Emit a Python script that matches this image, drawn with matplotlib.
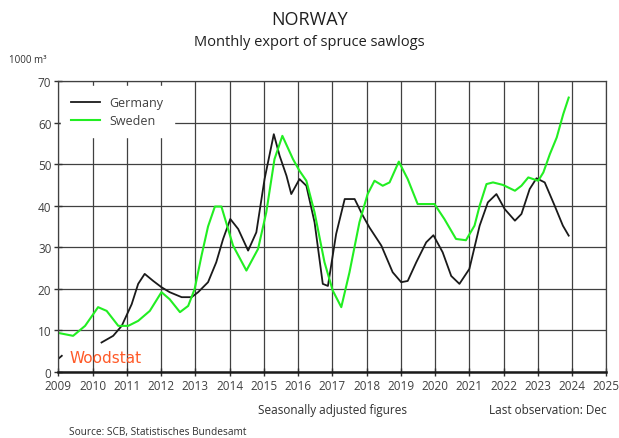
import matplotlib
matplotlib.use('Agg')
import matplotlib.pyplot as plt

# values (1000 m3), x in decimal years
germany_stub_x = [2009.0, 2009.1]
germany_stub_y = [3.2, 3.9]

germany_x = [2010.26, 2010.6, 2010.85, 2011.14, 2011.33, 2011.52, 2011.77, 2012.01,
             2012.25, 2012.6, 2012.89, 2013.08, 2013.37, 2013.61, 2013.81, 2014.02,
             2014.25, 2014.54, 2014.78, 2015.02, 2015.29, 2015.46, 2015.66, 2015.8,
             2016.04, 2016.24, 2016.48, 2016.72, 2016.87, 2017.11, 2017.36, 2017.65,
             2017.89, 2018.08, 2018.43, 2018.76, 2019.01, 2019.2, 2019.45, 2019.74,
             2019.95, 2020.22, 2020.47, 2020.71, 2021.0, 2021.3, 2021.54, 2021.79,
             2022.03, 2022.33, 2022.52, 2022.76, 2022.96, 2023.2, 2023.49, 2023.73,
             2023.9]
germany_y = [7.1, 8.7, 11.1, 16.3, 21.2, 23.6, 21.9, 20.4,
             19.2, 18.0, 18.0, 19.2, 21.6, 26.4, 32.0, 36.8,
             34.4, 29.2, 33.6, 46.4, 57.2, 52.0, 47.2, 42.8,
             46.4, 44.8, 36.0, 21.2, 20.7, 33.2, 41.6, 41.6,
             37.6, 34.8, 30.4, 24.0, 21.6, 21.9, 26.4, 31.2,
             32.9, 28.8, 23.1, 21.2, 24.8, 35.2, 40.8, 42.8,
             39.2, 36.4, 38.0, 44.0, 46.6, 45.6, 40.0, 35.2,
             32.8]

sweden_x = [2009.0, 2009.43, 2009.78, 2010.16, 2010.41, 2010.75, 2011.04, 2011.33,
            2011.67, 2012.01, 2012.25, 2012.55, 2012.79, 2012.98, 2013.18, 2013.37,
            2013.57, 2013.76, 2014.1, 2014.49, 2014.83, 2015.07, 2015.31, 2015.54,
            2015.85, 2016.04, 2016.24, 2016.48, 2016.77, 2017.01, 2017.26, 2017.5,
            2017.79, 2018.03, 2018.23, 2018.47, 2018.67, 2018.94, 2019.2, 2019.49,
            2019.98, 2020.27, 2020.61, 2020.9, 2021.15, 2021.3, 2021.5, 2021.69,
            2021.98, 2022.33, 2022.52, 2022.72, 2023.01, 2023.16, 2023.35, 2023.55,
            2023.74, 2023.9]
sweden_y = [9.4, 8.7, 11.1, 15.6, 14.7, 11.1, 11.1, 12.3,
            14.7, 19.2, 17.5, 14.4, 15.9, 20.0, 28.0, 35.0,
            39.8, 39.8, 30.4, 24.4, 29.6, 38.4, 51.2, 56.8,
            51.2, 48.4, 46.0, 38.4, 26.4, 19.6, 15.6, 24.0,
            36.0, 42.8, 46.0, 44.8, 45.6, 50.6, 46.4, 40.4,
            40.4, 36.8, 32.0, 31.7, 35.2, 40.0, 45.2, 45.6,
            45.0, 43.6, 44.8, 46.8, 46.0, 48.0, 52.4, 56.4,
            62.0, 66.0]

years = list(range(2009, 2026))
yticks = list(range(0, 80, 10))

plt.rcParams['font.family'] = ['Open Sans', 'DejaVu Sans']

fig = plt.figure(figsize=(6.19, 4.39), dpi=100)
ax = fig.add_axes([0.0943, 0.1503, 0.8853, 0.663])

ax.plot(germany_stub_x, germany_stub_y, color='#1a1a1a', lw=1.3)
ax.plot(germany_x, germany_y, color='#1a1a1a', lw=1.3, label='Germany')
ax.plot(sweden_x, sweden_y, color='#22ee22', lw=1.5, label='Sweden')

ax.set_xlim(2009, 2025)
ax.set_ylim(0, 70)
ax.set_xticks(years)
ax.set_yticks(yticks)
ax.grid(True, color='#404040', lw=0.9)
ax.set_axisbelow(True)
ax.tick_params(direction='inout', length=6, width=1, colors='#303030',
               labelsize=8.5, labelcolor='#404040', pad=2)
for s in ['top', 'right', 'left']:
    ax.spines[s].set_color('#404040')
    ax.spines[s].set_linewidth(0.9)
ax.spines['bottom'].set_linewidth(1.8)
ax.spines['bottom'].set_color('#1a1a1a')

leg = ax.legend(loc='upper left', bbox_to_anchor=(0.0, 0.99), fontsize=9,
                frameon=True, fancybox=False, framealpha=1, edgecolor='white',
                facecolor='white', handlelength=2.3, borderpad=0.8,
                labelspacing=0.4, borderaxespad=0.2)
for t in leg.get_texts():
    t.set_color('#404040')

ax.text(0.021, 0.036, 'Woodstat', transform=ax.transAxes, color='#ff5a28',
        fontsize=11, family=['DejaVu Sans'], va='baseline')

fig.text(0.5, 0.955, 'NORWAY', ha='center', va='center', fontsize=13, color='#202020')
fig.text(0.5, 0.903, 'Monthly export of spruce sawlogs', ha='center', va='center',
         fontsize=10.5, color='#202020')
fig.text(0.015, 0.862, '1000 m\u00b3', ha='left', va='center', fontsize=7, color='#303030')
fig.text(0.537, 0.064, 'Seasonally adjusted figures', ha='center', va='center',
         fontsize=8.5, color='#303030')
fig.text(0.79, 0.064, 'Last observation: Dec', ha='left', va='center',
         fontsize=8.5, color='#303030')
fig.text(0.111, 0.015, 'Source: SCB, Statistisches Bundesamt', ha='left', va='center',
         fontsize=7.3, color='#303030')

fig.savefig('out.png', dpi=100)
